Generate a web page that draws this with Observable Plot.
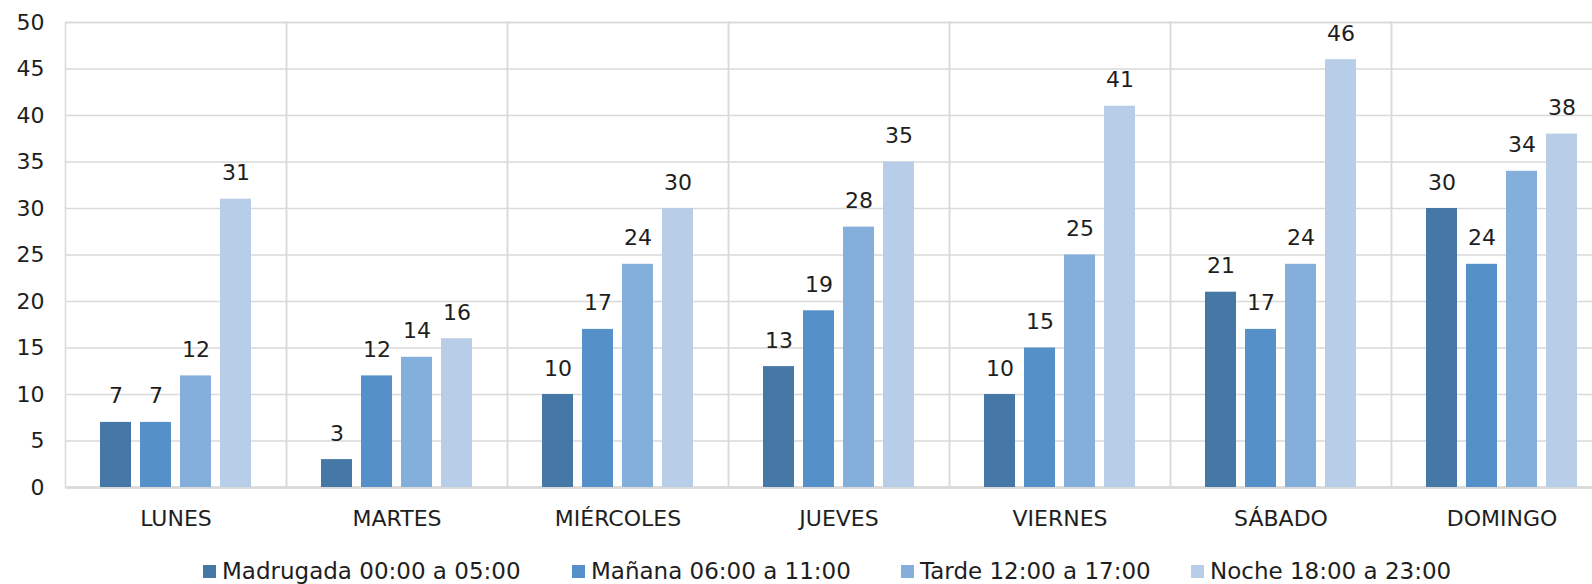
<!DOCTYPE html>
<html>
<head>
<meta charset="utf-8">
<script src="https://cdn.jsdelivr.net/npm/d3@7"></script>
<script src="https://cdn.jsdelivr.net/npm/@observablehq/plot@0.6"></script>
<style>
  html, body { margin: 0; padding: 0; background: #fff; overflow: hidden; width: 1592px; height: 584px; }
  #chart { position: absolute; left: 0; top: 0; }
  .item { position: absolute; top: 557px; height: 28px; display: flex; align-items: center; font-family: "DejaVu Sans", sans-serif; font-size: 23px; color: #1e1e1e; white-space: nowrap; }
  .sw { width: 13px; height: 13px; margin-right: 6px; }
</style>
</head>
<body>
<div id="chart"></div>
<div id="legend"></div>
<script>
const days = ["LUNES", "MARTES", "MIÉRCOLES", "JUEVES", "VIERNES", "SÁBADO", "DOMINGO"];
const series = ["Madrugada 00:00 a 05:00", "Mañana 06:00 a 11:00", "Tarde 12:00 a 17:00", "Noche 18:00 a 23:00"];
const madrugada = [7, 3, 10, 13, 10, 21, 30];
const manana = [7, 12, 17, 19, 15, 17, 24];
const tarde = [12, 14, 24, 28, 25, 24, 34];
const noche = [31, 16, 30, 35, 41, 46, 38];
const yTicks = [0, 5, 10, 15, 20, 25, 30, 35, 40, 45, 50];

const colors = ["#4678a7", "#5591c8", "#84afdc", "#b8cde8"];
const seriesValues = [madrugada, manana, tarde, noche];

const data = [];
days.forEach((d, i) => {
  series.forEach((s, j) => {
    data.push({day: d, series: s, value: seriesValues[j][i]});
  });
});

const font = "DejaVu Sans, sans-serif";
const chart = Plot.plot({
  width: 1612,
  height: 530,
  marginLeft: 64,
  marginRight: 0,
  marginTop: 22,
  marginBottom: 43,
  style: {fontFamily: font, fontSize: "22px", color: "#1e1e1e", background: "#fff", maxWidth: "none"},
  fx: {domain: days, padding: 0, label: null},
  x: {domain: series, paddingInner: 0.22, paddingOuter: 0.85, axis: null},
  y: {domain: [0, 50], ticks: yTicks, label: null},
  color: {domain: series, range: colors},
  marks: [
    Plot.gridY(yTicks, {stroke: "#d9d9d9", strokeOpacity: 1, strokeWidth: 1.5}),
    Plot.frame({stroke: "#d9d9d9", strokeWidth: 1.5}),
    Plot.ruleY([0], {stroke: "#d9d9d9", strokeWidth: 2.5}),
    Plot.barY(data, {fx: "day", x: "series", y: "value", fill: "series"}),
    Plot.text(data, {fx: "day", x: "series", y: "value", text: d => String(d.value), dy: -26, fill: "#1e1e1e", fontSize: 22}),
    Plot.axisY({ticks: yTicks, tickSize: 0, tickPadding: 21, label: null, fontSize: 22}),
    Plot.axisFx({anchor: "bottom", tickSize: 0, tickPadding: 23, label: null, fontSize: 22})
  ]
});
document.getElementById("chart").appendChild(chart);

const legendX = [203, 572, 901, 1191];
const legend = document.getElementById("legend");
series.forEach((s, j) => {
  const item = document.createElement("div");
  item.className = "item";
  item.style.left = legendX[j] + "px";
  const sw = document.createElement("span");
  sw.className = "sw";
  sw.style.background = colors[j];
  const t = document.createElement("span");
  t.textContent = s;
  item.appendChild(sw);
  item.appendChild(t);
  legend.appendChild(item);
});
</script>
</body>
</html>
